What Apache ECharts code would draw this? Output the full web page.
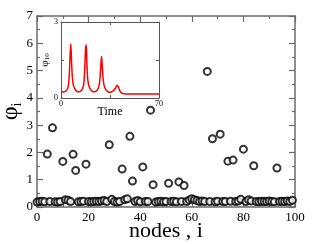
<!DOCTYPE html>
<html><head><meta charset="utf-8">
<script src="https://cdn.jsdelivr.net/npm/echarts@6/dist/echarts.min.js"></script>
<style>html,body{margin:0;padding:0;background:#fff}#c{width:316px;height:244px}</style>
</head><body><div id="c"></div>
<script>
var nodeValues = [
 0.18,0.20,0.21,0.19,1.94,0.20,2.90,0.19,0.18,0.20,
 1.67,0.27,0.25,0.20,1.93,1.34,0.19,0.20,0.21,1.57,
 0.20,0.19,0.20,0.21,0.20,0.22,0.24,0.20,2.28,0.28,
 0.20,0.18,0.20,1.39,0.27,0.30,2.59,0.95,0.20,0.24,
 0.19,1.47,0.20,0.20,3.55,0.82,0.18,0.20,0.21,0.19,
 0.20,0.87,0.20,0.21,0.19,0.92,0.20,0.79,0.20,0.26,
 0.30,0.27,0.24,0.20,0.22,0.20,4.97,0.20,2.50,0.19,
 0.21,2.67,0.20,0.20,1.68,0.21,1.72,0.20,0.22,0.28,
 2.12,0.20,0.27,0.22,1.51,0.20,0.19,0.21,0.20,0.20,
 0.22,0.20,0.19,1.43,0.20,0.21,0.20,0.22,0.20,0.25
];
var timeValues = [0,1,2,3,4,5,5.5,6,6.5,7,7.5,8,8.5,9,10,11,12,13,14,15,16,16.5,17,17.5,18,18.5,19,19.5,20,21,22,23,24,25,26,27,27.5,28,28.5,29,29.5,30,30.5,31,32,33,34,35,36,37,38,39,39.5,40,40.5,41,41.5,42,42.5,43,44,45,46,47,48,50,55,60,65,70];
var phi10Values = [0.26,0.24,0.24,0.26,0.3,0.42,0.6,1.0,1.7,2.14,1.5,0.9,0.62,0.48,0.34,0.28,0.25,0.25,0.27,0.33,0.48,0.7,1.2,1.9,2.1,1.3,0.8,0.58,0.46,0.34,0.28,0.25,0.25,0.27,0.32,0.45,0.6,0.9,1.35,1.65,1.2,0.8,0.58,0.45,0.33,0.27,0.24,0.23,0.24,0.27,0.32,0.4,0.45,0.5,0.5,0.44,0.36,0.29,0.24,0.21,0.18,0.17,0.16,0.16,0.16,0.16,0.16,0.16,0.16,0.16];
var xTicks = {min:0,max:100,interval:20};
var yTicks = {min:0,max:7,interval:1};

var scatterData = nodeValues.map(function(v,i){return [i,v];});
var lineData = timeValues.map(function(t,i){return [t,phi10Values[i]];});
var serif = 'Liberation Serif';
var frame = '#6a6a6a';
var chart = echarts.init(document.getElementById('c'), null, {renderer:'canvas'});
function mainAxis(extra){
  return Object.assign({
    axisLine:{show:true,onZero:false,lineStyle:{color:frame,width:1.5}},
    axisTick:{show:true,inside:true,length:6,lineStyle:{color:frame,width:1.2}},
    minorTick:{show:true,splitNumber:2,length:3,lineStyle:{color:frame,width:1.2}},
    splitLine:{show:false},
    axisLabel:{color:'#000',fontFamily:serif,fontSize:13,margin:4}
  }, extra);
}
chart.setOption({
  animation:false,
  backgroundColor:'#fff',
  grid:[
    {left:37,right:21,top:16,bottom:37,show:false,containLabel:false,outerBoundsMode:'none'},
    {left:61,top:22,width:98,height:76,show:true,backgroundColor:'#fff',borderWidth:0,z:5,containLabel:false,outerBoundsMode:'none'}
  ],
  xAxis:[
    mainAxis({type:'value',gridIndex:0,min:xTicks.min,max:xTicks.max,interval:xTicks.interval,
      name:'nodes , i',nameLocation:'middle',nameGap:24,nameMoveOverlap:false,
      nameTextStyle:{fontFamily:serif,fontSize:22,color:'#000',lineHeight:22,verticalAlign:'middle'}}),
    mainAxis({type:'value',gridIndex:0,position:'top',min:xTicks.min,max:xTicks.max,interval:xTicks.interval,axisLabel:{show:false}}),
    {type:'value',gridIndex:1,min:0,max:70,interval:35,z:6,
      axisLine:{onZero:false,lineStyle:{color:'#555',width:1}},
      axisTick:{inside:true,length:3,lineStyle:{color:'#555'}},
      splitLine:{show:false},
      axisLabel:{color:'#000',fontFamily:serif,fontSize:8,margin:2,
        formatter:function(v){return (v===0||v===70)?String(v):'';}},
      name:'Time',nameLocation:'middle',nameGap:14,nameMoveOverlap:false,
      nameTextStyle:{fontFamily:serif,fontSize:12,color:'#000',verticalAlign:'middle'}},
    {type:'value',gridIndex:1,position:'top',min:0,max:70,interval:35,z:6,
      axisLine:{onZero:false,lineStyle:{color:'#555',width:1}},
      axisTick:{inside:true,length:3,lineStyle:{color:'#555'}},
      splitLine:{show:false},axisLabel:{show:false}}
  ],
  yAxis:[
    mainAxis({type:'value',gridIndex:0,min:yTicks.min,max:yTicks.max,interval:yTicks.interval,
      name:'{a|φ}{b|i}',nameLocation:'middle',nameGap:26,nameRotate:90,nameMoveOverlap:false,
      nameTextStyle:{color:'#000',verticalAlign:'middle',rich:{a:{fontFamily:serif,fontSize:24,color:'#000'},b:{fontFamily:serif,fontSize:14,color:'#000',padding:[12,0,0,0]}}}}),
    mainAxis({type:'value',gridIndex:0,position:'right',min:yTicks.min,max:yTicks.max,interval:yTicks.interval,axisLabel:{show:false}}),
    {type:'value',gridIndex:1,min:0,max:3,interval:1.5,z:6,
      axisLine:{onZero:false,lineStyle:{color:'#555',width:1}},
      axisTick:{inside:true,length:3,lineStyle:{color:'#555'}},
      splitLine:{show:false},
      axisLabel:{color:'#000',fontFamily:serif,fontSize:8,margin:3,
        formatter:function(v){return (v===0||v===3)?String(v):'';}},
      name:'{a|φ}{b|10}',nameLocation:'middle',nameGap:16,nameRotate:90,nameMoveOverlap:false,
      nameTextStyle:{color:'#000',verticalAlign:'middle',rich:{a:{fontFamily:serif,fontSize:11,color:'#000'},b:{fontFamily:serif,fontSize:7,color:'#000',padding:[5,0,0,0]}}}},
    {type:'value',gridIndex:1,position:'right',min:0,max:3,interval:1.5,z:6,
      axisLine:{onZero:false,lineStyle:{color:'#555',width:1}},
      axisTick:{inside:true,length:3,lineStyle:{color:'#555'}},
      splitLine:{show:false},axisLabel:{show:false}}
  ],
  series:[
    {type:'scatter',xAxisIndex:0,yAxisIndex:0,data:scatterData,symbol:'emptyCircle',symbolSize:7,
      itemStyle:{color:'#000',borderColor:'#000',borderWidth:1.5}},
    {type:'line',xAxisIndex:2,yAxisIndex:2,data:lineData,showSymbol:false,smooth:0.3,z:7,
      lineStyle:{color:'#ff0000',width:1.5}}
  ]
});
</script></body></html>
